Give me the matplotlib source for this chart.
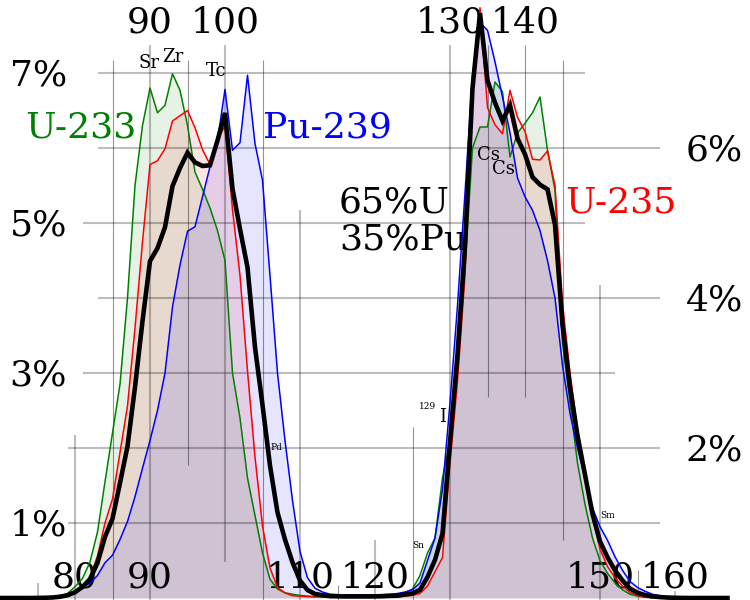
import matplotlib
matplotlib.use("Agg")
import matplotlib.pyplot as plt

# ---------------- data: thermal fission yield (%) per mass number ----------------
mass = list(range(70, 168))

u233 = [0, 0, 0, 0, 0, 0.003, 0.007, 0.012, 0.02, 0.06,
        0.15, 0.26, 0.48, 0.88, 1.55, 2.2, 2.85, 4.0, 5.5, 6.3,
        6.8, 6.47, 6.57, 6.99, 6.77, 6.3, 5.68, 5.45, 5.2, 4.9,
        4.5, 3.0, 2.4, 1.6, 1.1, 0.6, 0.25, 0.12, 0.07, 0.05,
        0.035, 0.025, 0.02, 0.02, 0.02, 0.02, 0.02, 0.02, 0.02, 0.022,
        0.025, 0.03, 0.035, 0.05, 0.07, 0.12, 0.3, 0.6, 0.8, 1.6,
        2.1, 3.1, 4.4, 6.0, 6.28, 6.28, 6.88, 6.75, 5.88, 6.2,
        6.33, 6.47, 6.68, 5.97, 5.44, 3.4, 2.6, 1.8, 1.25, 0.8,
        0.5, 0.33, 0.2, 0.11, 0.05, 0.025, 0.01, 0.005, 0, 0,
        0, 0, 0, 0, 0, 0, 0, 0]

u235 = [0, 0, 0, 0, 0, 0.001, 0.003, 0.008, 0.02, 0.04,
        0.08, 0.15, 0.28, 0.56, 1.0, 1.32, 1.94, 2.56, 3.6, 4.75,
        5.78, 5.83, 5.99, 6.36, 6.43, 6.5, 6.27, 5.98, 5.78, 6.1,
        6.3, 5.18, 4.3, 3.03, 1.88, 0.96, 0.40, 0.14, 0.067, 0.031,
        0.025, 0.018, 0.013, 0.014, 0.012, 0.011, 0.011, 0.011, 0.011, 0.011,
        0.013, 0.013, 0.016, 0.016, 0.027, 0.034, 0.06, 0.16, 0.35, 0.54,
        1.8, 2.89, 4.31, 6.7, 7.87, 6.54, 6.31, 6.19, 6.77, 6.41,
        6.22, 5.85, 5.84, 5.96, 5.5, 3.93, 3.0, 2.25, 1.67, 1.08,
        0.65, 0.42, 0.27, 0.16, 0.074, 0.033, 0.013, 0.006, 0.003, 0.001,
        0, 0, 0, 0, 0, 0, 0, 0]

pu239 = [0, 0, 0, 0, 0, 0, 0.002, 0.005, 0.01, 0.03,
         0.07, 0.14, 0.2, 0.3, 0.47, 0.57, 0.78, 1.02, 1.35, 1.73,
         2.1, 2.5, 3.0, 3.88, 4.44, 4.89, 4.95, 5.35, 5.75, 6.1,
         6.78, 5.97, 6.07, 6.97, 6.06, 5.57, 4.3, 3.0, 2.1, 1.3,
         0.62, 0.27, 0.13, 0.08, 0.05, 0.045, 0.04, 0.04, 0.04, 0.04,
         0.04, 0.045, 0.05, 0.06, 0.08, 0.11, 0.2, 0.5, 0.8, 1.45,
         2.6, 3.9, 5.4, 6.97, 7.67, 7.57, 7.15, 6.68, 6.2, 5.6,
         5.35, 5.17, 4.9, 4.5, 4.0, 3.1, 2.46, 2.0, 1.6, 1.2,
         0.95, 0.77, 0.55, 0.37, 0.22, 0.14, 0.09, 0.05, 0.03, 0.015,
         0.008, 0.004, 0, 0, 0, 0, 0, 0]

mix = [0, 0, 0, 0, 0, 0.001, 0.003, 0.007, 0.017, 0.037,
       0.077, 0.147, 0.252, 0.469, 0.815, 1.058, 1.534, 2.021, 2.813, 3.693,
       4.492, 4.665, 4.944, 5.492, 5.734, 5.937, 5.808, 5.760, 5.770, 6.100,
       6.468, 5.457, 4.920, 4.409, 3.343, 2.574, 1.765, 1.141, 0.779, 0.475,
       0.233, 0.106, 0.054, 0.037, 0.025, 0.023, 0.021, 0.021, 0.021, 0.021,
       0.022, 0.024, 0.028, 0.031, 0.046, 0.061, 0.109, 0.279, 0.508, 0.859,
       2.08, 3.244, 4.692, 6.795, 7.8, 6.901, 6.604, 6.362, 6.571, 6.127,
       5.916, 5.612, 5.511, 5.449, 4.975, 3.640, 2.811, 2.163, 1.646, 1.122,
       0.755, 0.543, 0.368, 0.234, 0.125, 0.070, 0.040, 0.021, 0.012, 0.006,
       0.003, 0.001, 0, 0, 0, 0, 0, 0]

left_pct = [7, 5, 3, 1]
right_pct = [6, 4, 2]
top_mass = [90, 100, 130, 140]
bottom_mass = [80, 90, 110, 120, 150, 160]

# ---------------- figure ----------------
W, H = 750, 600
fig = plt.figure(figsize=(7.5, 6), dpi=100)
ax = fig.add_axes([0, 0, 1, 1])
ax.set_xlim(70, 170)
ax.set_ylim(-2 / 75, 598 / 75)
ax.axis("off")

def X(px):
    return px / 7.5 + 70

def Y(py):
    return (598 - py) / 75

SERIF = "DejaVu Serif"
BIG = 26

# fills
ax.fill_between(mass, u233, 0, color="green", alpha=0.1, lw=0, zorder=1)
ax.fill_between(mass, u235, 0, color="red", alpha=0.1, lw=0, zorder=1)
ax.fill_between(mass, pu239, 0, color="blue", alpha=0.1, lw=0, zorder=1)

# grid (horizontal)
hgrid = [(7, 98, 585), (6, 98, 660), (5, 83, 585), (4, 98, 660),
         (3, 83, 615), (2, 68, 660), (1, 68, 660)]
for p, x0, x1 in hgrid:
    ax.plot([X(x0), X(x1)], [p, p], color="black", alpha=0.26, lw=1.5,
            solid_capstyle="butt", zorder=2)

bot = Y(600)
vgrid = [(75, 0.2, bot, True), (80, 2.17, bot, True), (85, 7.17, bot, False),
         (90, 7.37, bot, True), (95, 7.17, 1.77, False), (100, 7.37, 0.48, True),
         (105, 7.17, bot, False), (110, 5.17, bot, True), (115, 0.17, bot, False),
         (120, 0.77, bot, True), (125, 2.28, bot, False), (130, 7.37, bot, True),
         (135, 7.37, 2.68, False), (140, 7.37, 2.68, False), (145, 7.17, 0.77, False),
         (150, 4.17, bot, True), (155, 0.37, bot, False), (160, 0.1, bot, True)]
for m, t, b, major in vgrid:
    if major:
        ax.plot([m, m], [b, t], color="black", alpha=0.26, lw=1.5,
                solid_capstyle="butt", zorder=2)
    else:
        ax.plot([m, m], [b, t], color="black", alpha=0.42, lw=0.8,
                solid_capstyle="butt", zorder=2)

# text labels
def txt(px, py, s, size=BIG, color="black", ha="left"):
    ax.text(X(px), Y(py), s, fontsize=size, color=color, ha=ha, va="baseline",
            family=SERIF, zorder=2.5)

for v, px in zip(top_mass, [150, 225, 450, 525]):
    txt(px, 32.5, str(v), ha="center")
for v, px in zip(bottom_mass, [75, 150, 300, 375, 600, 675]):
    txt(px, 587, str(v), ha="center")
for p in left_pct:
    txt(67, 598 - 75 * p + 12.5, f"{p}%", ha="right")
for p in right_pct:
    txt(686, 598 - 75 * p + 12.5, f"{p}%", ha="left")

txt(25, 137.5, "U-233", color="green")
txt(263, 137.5, "Pu-239", color="blue")
txt(565, 212.5, "U-235", color="red")
txt(339, 213, "65%U")
txt(339, 250, "35%Pu")

SMALL = 13
txt(138, 68.5, "Sr", size=SMALL)
txt(162, 62.5, "Zr", size=SMALL)
txt(206, 76.5, "Tc", size=SMALL)
txt(477, 159.5, "Cs", size=SMALL)
txt(492, 174, "Cs", size=SMALL)
txt(439, 421.5, "I", size=SMALL)
txt(419, 409, "129", size=6.5)
txt(270, 450, "Pd", size=6.5)
txt(412, 548, "Sn", size=6.5)
txt(600, 518, "Sm", size=6.5)

# lines
ax.plot(mass, u233, color="green", lw=1.1, zorder=3)
ax.plot(mass, u235, color="red", lw=1.1, zorder=3)
ax.plot(mass, pu239, color="blue", lw=1.1, zorder=3)
ax.plot(mass, mix, color="black", lw=3.3, zorder=4, solid_joinstyle="miter")

fig.savefig("out.png", dpi=100)
